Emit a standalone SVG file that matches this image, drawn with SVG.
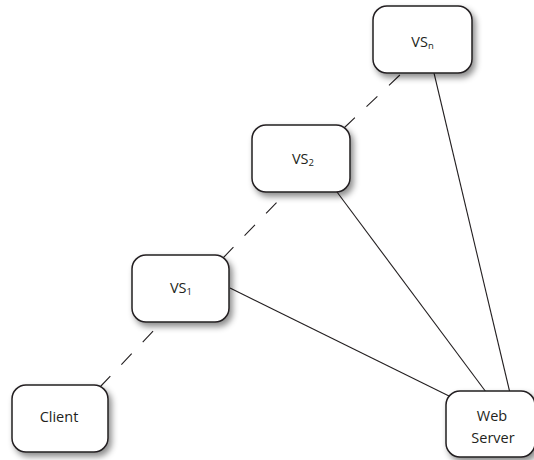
<svg xmlns="http://www.w3.org/2000/svg" width="534" height="460" viewBox="0 0 534 460">
  <style>
    .box { fill: #ffffff; stroke: #231f20; stroke-width: 1.5; filter: url(#shadow); }
    .lbl { font-family: "Open Sans", "Liberation Sans", sans-serif; font-size: 14.5px; fill: #231f20; text-anchor: middle; }
    .sub { font-size: 9.5px; }
    .solid { stroke: #231f20; stroke-width: 1.1; fill: none; }
    .dash { stroke: #231f20; stroke-width: 1.1; fill: none; stroke-dasharray: 15 16; }
  </style>
  <defs>
    <filter id="shadow" x="-20%" y="-20%" width="150%" height="160%">
      <feDropShadow dx="3" dy="4" stdDeviation="3" flood-color="#000000" flood-opacity="0.45"/>
    </filter>
  </defs>
  <rect width="534" height="460" fill="#ffffff"/>

  <g id="connectors">
    <!-- dashed chain: Client to VS1 to VS2 to VSn -->
    <line class="dash" x1="100" y1="387" x2="158" y2="326"/>
    <line class="dash" x1="223" y1="258" x2="281" y2="198"/>
    <line class="dash" x1="344" y1="128" x2="402" y2="73"/>
    <!-- direct links to the web server -->
    <line class="solid" x1="230" y1="288" x2="449" y2="396"/>
    <line class="solid" x1="337" y1="192" x2="486" y2="392"/>
    <line class="solid" x1="434" y1="73" x2="510" y2="393"/>
  </g>

  <g id="vsn">
    <rect class="box" x="373" y="6" width="99" height="67" rx="14"/>
    <text class="lbl" x="422.5" y="47">VS<tspan class="sub" dy="2">n</tspan></text>
  </g>
  <g id="vs2">
    <rect class="box" x="252" y="125" width="98" height="67" rx="14"/>
    <text class="lbl" x="303" y="164">VS<tspan class="sub" dy="2">2</tspan></text>
  </g>
  <g id="vs1">
    <rect class="box" x="132" y="255" width="97" height="67" rx="14"/>
    <text class="lbl" x="181" y="293">VS<tspan class="sub" dy="2">1</tspan></text>
  </g>
  <g id="client">
    <rect class="box" x="12" y="385" width="96" height="67" rx="14"/>
    <text class="lbl" x="59" y="422">Client</text>
  </g>
  <g id="web-server">
    <rect class="box" x="446" y="391" width="89" height="66" rx="14"/>
    <text class="lbl" x="492" y="421">Web</text>
    <text class="lbl" x="493" y="443">Server</text>
  </g>
</svg>
